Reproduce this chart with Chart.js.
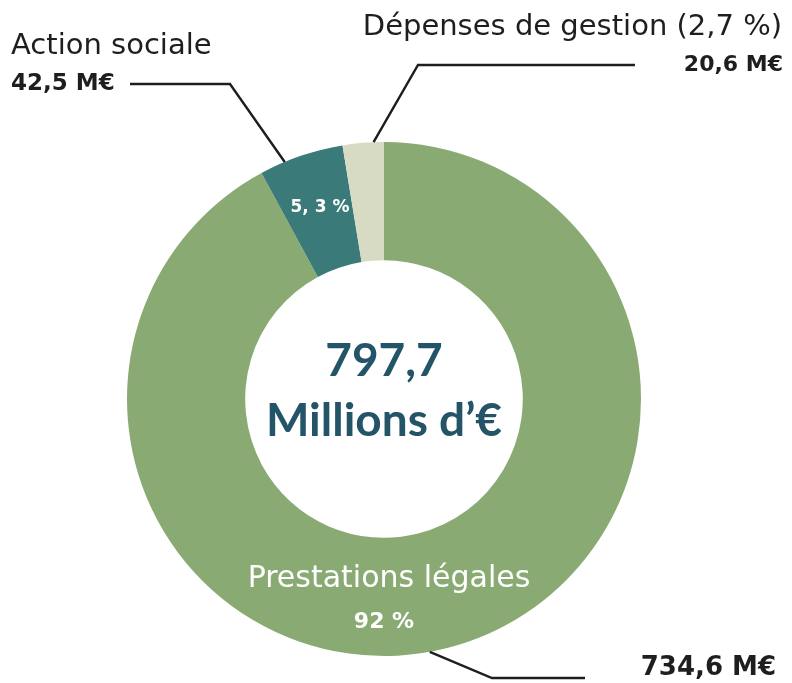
<!DOCTYPE html>
<html>
<head>
<meta charset="utf-8">
<script src="https://cdn.jsdelivr.net/npm/chart.js@4/dist/chart.umd.min.js"></script>
<style>
  html,body{margin:0;padding:0;background:#fff;}
  #wrap{width:792px;height:683px;position:relative;}
</style>
</head>
<body>
<div id="wrap"><canvas id="c" width="792" height="683"></canvas></div>
<script>
// budget data (M€)
let labels = ["Prestations légales", "Action sociale", "Dépenses de gestion"];
let values = [734.6, 42.5, 20.6];
let pcts = ["92 %", "5, 3 %", "2,7 %"];
let amounts = ["734,6 M€", "42,5 M€", "20,6 M€"];
let total = "797,7";
let colors = ["#8aaa73", "#3a7a78", "#d7dbc4"];

let font = "'DejaVu Sans', 'Noto Sans', sans-serif";
let bigFont = "Lato, 'Noto Sans', sans-serif";

// leader lines + text
let annot = {
  id: "annot",
  afterDraw(chart){
    let c = chart.ctx;
    let arcs = chart.getDatasetMeta(0).data;
    let cx = arcs[0].x, cy = arcs[0].y;

    function edge(a, f){
      let p = a.getProps(["startAngle","endAngle","outerRadius"], true);
      let ang = p.startAngle + (p.endAngle - p.startAngle) * f;
      return [cx + Math.cos(ang) * p.outerRadius, cy + Math.sin(ang) * p.outerRadius];
    }
    function leader(pts){
      c.save();
      c.strokeStyle = "#1e1e1e";
      c.lineWidth = 2.4;
      c.beginPath();
      c.moveTo(pts[0][0], pts[0][1]);
      for (let i = 1; i < pts.length; i++) c.lineTo(pts[i][0], pts[i][1]);
      c.stroke();
      c.restore();
    }
    function txt(s, x, y, size, weight, color, align, f){
      c.save();
      c.font = weight + " " + size + "px " + (f || font);
      c.fillStyle = color;
      c.textAlign = align || "center";
      c.textBaseline = "middle";
      c.fillText(s, x, y);
      c.restore();
    }

    // Action sociale
    let e1 = edge(arcs[1], 0.3);
    leader([[130, 84], [230, 84], e1]);
    txt(labels[1], 11, 46, 29, "normal", "#1e1e1e", "left");
    txt(amounts[1], 11, 84, 23, "bold", "#1e1e1e", "left");

    // Dépenses de gestion
    let e2 = edge(arcs[2], 0.75);
    leader([[635, 65], [418, 65], e2]);
    txt(labels[2] + " (" + pcts[2] + ")", 782, 27, 29, "normal", "#1e1e1e", "right");
    txt(amounts[2], 783, 65, 22, "bold", "#1e1e1e", "right");

    // Prestations légales
    let e0 = edge(arcs[0], 0.512);
    leader([e0, [492, 678], [585, 678]]);
    txt(amounts[0], 776, 668, 26, "bold", "#1e1e1e", "right");
    txt(labels[0], cx + 5, cy + 180, 30, "normal", "#ffffff");
    txt(pcts[0], cx, cy + 223, 22, "bold", "#ffffff");

    // label inside teal slice
    let tp = arcs[1].tooltipPosition();
    txt(pcts[1], tp.x, tp.y - 4, 17, "bold", "#ffffff");

    // centre
    txt(total, cx, cy - 38, 46, "bold", "#245467", "center", bigFont);
    txt("Millions d\u2019\u20ac", cx, cy + 22, 46, "bold", "#245467", "center", bigFont);
  }
};

new Chart(document.getElementById("c").getContext("2d"), {
  type: "doughnut",
  data: {
    labels: labels,
    datasets: [{
      data: values,
      backgroundColor: colors,
      borderWidth: 0
    }]
  },
  options: {
    responsive: false,
    animation: false,
    cutout: "54%",
    layout: { padding: { top: 142, bottom: 27, left: 127, right: 151 } },
    plugins: {
      legend: { display: false },
      tooltip: { enabled: false }
    }
  },
  plugins: [annot]
});
</script>
</body>
</html>
